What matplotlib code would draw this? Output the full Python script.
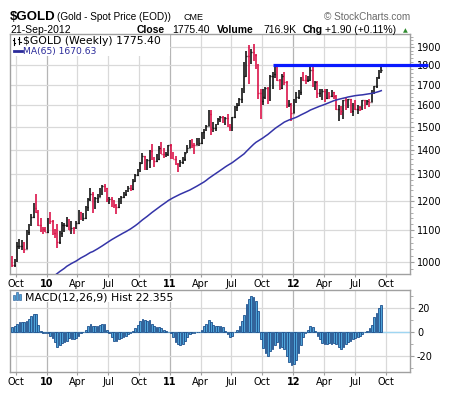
import numpy as np
import pandas as pd
import matplotlib
matplotlib.use('Agg')
import matplotlib.pyplot as plt
import matplotlib.dates as mdates
from matplotlib.ticker import FixedLocator, NullFormatter, FixedFormatter
from matplotlib.patches import Rectangle

# ---------------- data ----------------
week_end = pd.date_range('2009-09-25', periods=157, freq='W-FRI')

closes = [991, 1003, 1049, 1051, 1056, 1040, 1095, 1118, 1145, 1175,
          1162, 1118, 1110, 1105, 1096, 1138, 1130, 1091, 1081, 1064,
          1093, 1117, 1118, 1134, 1102, 1107, 1105, 1126, 1161, 1137,
          1142, 1180, 1210, 1228, 1176, 1213, 1217, 1227, 1256, 1250,
          1209, 1210, 1189, 1188, 1181, 1204, 1215, 1227, 1236, 1250,
          1246, 1275, 1297, 1317, 1345, 1372, 1325, 1358, 1394, 1366,
          1352, 1362, 1406, 1384, 1377, 1380, 1420, 1369, 1360, 1343,
          1341, 1349, 1360, 1388, 1409, 1429, 1420, 1419, 1428, 1429,
          1474, 1486, 1504, 1556, 1491, 1493, 1509, 1536, 1542, 1529,
          1538, 1500, 1483, 1542, 1592, 1601, 1628, 1663, 1743, 1852,
          1828, 1876, 1855, 1811, 1657, 1620, 1636, 1682, 1642, 1744,
          1756, 1788, 1724, 1685, 1746, 1712, 1598, 1606, 1564, 1617,
          1640, 1665, 1739, 1725, 1724, 1725, 1776, 1711, 1712, 1656,
          1662, 1668, 1632, 1659, 1642, 1663, 1644, 1580, 1592, 1572,
          1622, 1590, 1627, 1572, 1604, 1579, 1592, 1582, 1622, 1606,
          1620, 1616, 1671, 1691, 1739, 1770, 1775.4]

opens = [1003, 991, 1003, 1049, 1051, 1056, 1040, 1095, 1118, 1145,
         1175, 1162, 1118, 1110, 1105, 1096, 1138, 1130, 1091, 1081,
         1064, 1093, 1117, 1118, 1134, 1102, 1107, 1105, 1126, 1161,
         1137, 1142, 1180, 1210, 1228, 1176, 1213, 1217, 1227, 1256,
         1250, 1209, 1210, 1189, 1188, 1181, 1204, 1215, 1227, 1236,
         1250, 1246, 1275, 1297, 1317, 1345, 1372, 1325, 1358, 1394,
         1366, 1352, 1362, 1406, 1384, 1377, 1380, 1420, 1369, 1360,
         1343, 1341, 1349, 1360, 1388, 1409, 1429, 1420, 1419, 1428,
         1429, 1474, 1486, 1504, 1556, 1491, 1493, 1509, 1536, 1542,
         1529, 1538, 1500, 1483, 1542, 1592, 1601, 1628, 1663, 1743,
         1852, 1828, 1876, 1855, 1811, 1657, 1620, 1636, 1682, 1642,
         1744, 1756, 1788, 1724, 1685, 1746, 1712, 1598, 1606, 1564,
         1617, 1640, 1665, 1739, 1725, 1724, 1725, 1776, 1711, 1712,
         1656, 1662, 1668, 1632, 1659, 1642, 1663, 1644, 1580, 1592,
         1572, 1622, 1590, 1627, 1572, 1604, 1579, 1592, 1582, 1622,
         1606, 1620, 1616, 1671, 1691, 1739, 1770]

highs = [1018, 1009, 1062, 1071, 1070, 1062, 1101, 1120, 1155, 1195,
         1227, 1170, 1140, 1113, 1112, 1140, 1162, 1135, 1105, 1123,
         1098, 1127, 1126, 1146, 1139, 1130, 1112, 1130, 1168, 1162,
         1158, 1183, 1213, 1249, 1232, 1215, 1225, 1250, 1260, 1265,
         1248, 1215, 1215, 1204, 1192, 1212, 1220, 1234, 1241, 1257,
         1259, 1283, 1300, 1322, 1350, 1388, 1374, 1362, 1397, 1424,
         1371, 1381, 1415, 1432, 1406, 1392, 1421, 1424, 1391, 1375,
         1346, 1357, 1370, 1390, 1419, 1440, 1446, 1427, 1448, 1448,
         1476, 1488, 1509, 1577, 1574, 1522, 1512, 1537, 1550, 1550,
         1545, 1558, 1510, 1545, 1595, 1610, 1632, 1681, 1817, 1881,
         1912, 1890, 1921, 1862, 1810, 1680, 1680, 1690, 1690, 1748,
         1764, 1803, 1796, 1730, 1754, 1764, 1720, 1625, 1611, 1627,
         1662, 1672, 1740, 1764, 1750, 1745, 1790, 1792, 1720, 1716,
         1680, 1678, 1680, 1680, 1663, 1672, 1665, 1647, 1600, 1595,
         1625, 1640, 1628, 1630, 1607, 1625, 1598, 1595, 1625, 1625,
         1623, 1630, 1675, 1693, 1740, 1778, 1790]

lows = [987, 986, 1000, 1040, 1038, 1027, 1040, 1086, 1115, 1140,
        1160, 1115, 1094, 1090, 1095, 1092, 1122, 1086, 1075, 1045,
        1058, 1078, 1094, 1110, 1100, 1087, 1088, 1105, 1120, 1135,
        1131, 1139, 1167, 1200, 1160, 1173, 1195, 1214, 1222, 1233,
        1197, 1192, 1181, 1176, 1157, 1176, 1190, 1212, 1220, 1235,
        1239, 1240, 1270, 1293, 1310, 1340, 1316, 1318, 1325, 1358,
        1330, 1350, 1358, 1382, 1364, 1371, 1375, 1362, 1360, 1336,
        1309, 1330, 1340, 1355, 1385, 1406, 1406, 1382, 1418, 1414,
        1425, 1447, 1482, 1502, 1462, 1475, 1480, 1508, 1520, 1516,
        1508, 1496, 1478, 1480, 1539, 1571, 1596, 1610, 1660, 1740,
        1705, 1810, 1825, 1780, 1630, 1535, 1600, 1630, 1604, 1620,
        1680, 1735, 1716, 1672, 1680, 1700, 1584, 1590, 1523, 1560,
        1610, 1630, 1650, 1720, 1703, 1711, 1720, 1688, 1675, 1635,
        1640, 1625, 1612, 1628, 1628, 1640, 1630, 1575, 1527, 1551,
        1533, 1578, 1585, 1563, 1547, 1576, 1555, 1570, 1576, 1581,
        1600, 1591, 1614, 1655, 1683, 1730, 1760]

# weekly closes before the visible window (Jun 2008 - Sep 18 2009), used for MA(65)
pre_closes = [904, 929, 933, 962, 956, 926, 912, 865, 786, 830,
              832, 802, 764, 865, 884, 832, 850, 785, 736, 719,
              737, 747, 797, 815, 755, 824, 837, 872, 877, 854,
              838, 900, 927, 914, 942, 1000, 943, 938, 930, 952,
              923, 900, 880, 870, 913, 886, 915, 928, 958, 979,
              960, 937, 932, 941, 929, 912, 937, 951, 954, 957,
              946, 950, 955, 995, 1006, 1003]

macd_hist = [4, 5, 7, 8, 8, 8, 9, 11, 13, 15,
             15, 6, 1, -1, -1, -1, -3, -5, -8, -12,
             -11, -9, -8, -7, -5, -6, -6, -5, -3, -1,
             0, 2, 5, 7, 5, 5, 5, 6, 7, 7,
             2, -1, -4, -7, -7, -6, -5, -4, -3, -2,
             -1, 1, 3, 6, 9, 11, 10, 9, 10, 7,
             5, 4, 4, 3, 2, 1, 0, -1, -4, -8,
             -10, -11, -10, -7, -4, -2, -1, -1, 0, 0,
             2, 5, 7, 10, 8, 6, 5, 5, 5, 4,
             1, -2, -4, -3, 0, 2, 5, 9, 14, 23,
             27, 30, 29, 26, 17, -6, -13, -17, -20, -16,
             -14, -11, -8, -13, -12, -14, -20, -25, -27, -26,
             -23, -17, -11, -4, -1, 2, 5, 4, 1, -3,
             -6, -9, -10, -10, -9, -10, -9, -10, -12, -14,
             -12, -10, -8, -7, -6, -5, -4, -3, -2, 0,
             1, 3, 6, 12, 16, 20, 22.355]

price_ticks = [1000, 1100, 1200, 1300, 1400, 1500, 1600, 1700, 1800, 1900]
macd_ticks = [-20, 0, 20]
x_tick_dates = ['2009-10-01', '2010-01-01', '2010-04-01', '2010-07-01', '2010-10-01',
                '2011-01-01', '2011-04-01', '2011-07-01', '2011-10-01',
                '2012-01-01', '2012-04-01', '2012-07-01', '2012-10-01']
x_tick_labels = ['Oct', '10', 'Apr', 'Jul', 'Oct', '11', 'Apr', 'Jul', 'Oct',
                 '12', 'Apr', 'Jul', 'Oct']

resistance_level = 1800
resistance_start = '2011-10-31'
resistance_end = '2013-02-02'

ma_period = 65

# ---------------- figure ----------------
W, H = 449, 395
fig = plt.figure(figsize=(W / 100, H / 100), dpi=100)
fig.patch.set_facecolor('white')


def fx(x):
    return x / W


def fy(y):
    return 1 - y / H


ax1 = fig.add_axes([fx(10), fy(274), 400 / W, 240 / H])
ax2 = fig.add_axes([fx(10), fy(372), 400 / W, 82 / H])

bar_x = mdates.date2num(week_end - pd.Timedelta(days=4))
o = np.array(opens, float)
h = np.array(highs, float)
l = np.array(lows, float)
c = np.array(closes, float)
prev = np.concatenate([[pre_closes[-1]], c[:-1]])
colors = np.where(c < prev, '#d8003a', '#000000')

all_closes = pd.Series(list(pre_closes) + list(closes), dtype=float)
ma = all_closes.rolling(ma_period).mean().values[-len(closes):]

xmin = mdates.date2num(pd.Timestamp('2009-09-14'))
xmax = mdates.date2num(pd.Timestamp('2012-12-11'))
tick_nums = mdates.date2num(pd.to_datetime(x_tick_dates))

grid_c = '#d9d9d9'
year_c = '#b5b5b5'
spine_c = '#a0a0a0'

for ax in (ax1, ax2):
    ax.set_xlim(xmin, xmax)
    ax.set_facecolor('white')
    for s in ax.spines.values():
        s.set_color(spine_c)
        s.set_linewidth(1.0)
    for tn, lab in zip(tick_nums, x_tick_labels):
        ax.axvline(tn, color=year_c if lab.isdigit() else grid_c, lw=0.9, zorder=0)
    ax.xaxis.set_major_locator(FixedLocator(tick_nums))
    ax.xaxis.set_major_formatter(FixedFormatter(x_tick_labels))
    ax.tick_params(axis='x', length=2, color=spine_c, pad=1.5, labelsize=7)
    for t, lab in zip(ax.get_xticklabels(), x_tick_labels):
        t.set_fontfamily('DejaVu Sans')
        if lab.isdigit():
            t.set_fontweight('bold')
    ax.yaxis.tick_right()
    ax.tick_params(axis='y', which='major', length=3, color=spine_c, pad=2, labelsize=7)
    ax.tick_params(axis='y', which='minor', length=2, color=spine_c)

# ---- price panel ----
ax1.set_yscale('log')
ax1.set_ylim(966, 1977)
ax1.yaxis.set_major_locator(FixedLocator(price_ticks))
ax1.yaxis.set_major_formatter(FixedFormatter([str(v) for v in price_ticks]))
ax1.yaxis.set_minor_locator(FixedLocator([v for v in range(980, 1980, 20) if v % 100]))
ax1.yaxis.set_minor_formatter(NullFormatter())
for v in price_ticks:
    ax1.axhline(v, color=grid_c, lw=0.9, zorder=0)
for lab in ax1.get_yticklabels():
    lab.set_fontfamily('DejaVu Sans')

tk = 1.6
ax1.vlines(bar_x, l, h, colors=colors, lw=1.1, zorder=3)
ax1.hlines(o, bar_x - tk, bar_x, colors=colors, lw=1.0, zorder=3)
ax1.hlines(c, bar_x, bar_x + tk, colors=colors, lw=1.0, zorder=3)
ax1.plot(bar_x, ma, color='#3434a8', lw=1.1, zorder=3)

rs = mdates.date2num(pd.Timestamp(resistance_start))
re_ = mdates.date2num(pd.Timestamp(resistance_end))
ax1.plot([rs, re_], [resistance_level, resistance_level], color='#0a1aff', lw=2.3,
         solid_capstyle='butt', clip_on=False, zorder=6)

# legend box
ax1.add_patch(Rectangle((0, 1 - 22 / 240), 160 / 400, 22 / 240, transform=ax1.transAxes,
                        facecolor='white', edgecolor='none', zorder=1))
fig.text(fx(23), fy(44.5), '$GOLD (Weekly) 1775.40', fontsize=7.8,
         family='DejaVu Sans', va='baseline', ha='left', color='#000000')
fig.text(fx(23), fy(54), 'MA(65) 1670.63', fontsize=6.6, family='DejaVu Sans',
         va='baseline', ha='left', color='#2a2a9a')
fig.lines.append(plt.Line2D([fx(14), fx(22)], [fy(51), fy(51)], transform=fig.transFigure,
                            color='#2a2a9a', lw=2))
# little OHLC icon
for xx, y0, y1 in [(14, 38, 45), (19, 37, 44)]:
    fig.lines.append(plt.Line2D([fx(xx), fx(xx)], [fy(y0), fy(y1)], transform=fig.transFigure,
                                color='#000000', lw=0.8))
    fig.lines.append(plt.Line2D([fx(xx - 1.5), fx(xx)], [fy(y0 + 2), fy(y0 + 2)],
                                transform=fig.transFigure, color='#000000', lw=0.8))
    fig.lines.append(plt.Line2D([fx(xx), fx(xx + 1.5)], [fy(y1 - 2), fy(y1 - 2)],
                                transform=fig.transFigure, color='#000000', lw=0.8))

# ---- MACD panel ----
ax2.set_ylim(-33, 34.7)
ax2.yaxis.set_major_locator(FixedLocator(macd_ticks))
ax2.yaxis.set_major_formatter(FixedFormatter([str(v) for v in macd_ticks]))
ax2.yaxis.set_minor_locator(FixedLocator([-30, -10, 10, 30]))
ax2.yaxis.set_minor_formatter(NullFormatter())
for v in macd_ticks:
    ax2.axhline(v, color=grid_c, lw=0.9, zorder=0)
for lab in ax2.get_yticklabels():
    lab.set_fontfamily('DejaVu Sans')
ax2.bar(bar_x, macd_hist, width=5.2, color='#4ea3d8', edgecolor='#1d4f8c', lw=0.6, zorder=3)
ax2.axhline(0, color='#9fd6f2', lw=1.0, zorder=2)
ax2.add_patch(Rectangle((0, 1 - 12 / 82), 170 / 400, 12 / 82, transform=ax2.transAxes,
                        facecolor='white', edgecolor='none', zorder=1))
fig.text(fx(25), fy(300), 'MACD(12,26,9) Hist 22.355', fontsize=7.8,
         family='DejaVu Sans', va='baseline', ha='left', color='#000000')
for xx, hh in [(14, 5), (17, 8), (20, 6)]:
    fig.patches.append(Rectangle((fx(xx - 1), fy(300)), 2 / W, hh / H,
                                 transform=fig.transFigure, facecolor='#4ea3d8',
                                 edgecolor='#1d4f8c', lw=0.4))

# ---- header ----
fig.text(fx(10), fy(20), '$GOLD', fontsize=9.5, fontweight='bold',
         family='Liberation Sans', va='baseline')
fig.text(fx(57), fy(20), '(Gold - Spot Price (EOD))', fontsize=7.2,
         family='Liberation Sans', va='baseline')
fig.text(fx(183), fy(20), 'CME', fontsize=6.5, family='Liberation Sans', va='baseline')
fig.text(fx(410), fy(19.5), '\u00a9 StockCharts.com', fontsize=7.2, color='#6a6a6a',
         family='Liberation Sans', va='baseline', ha='right')

fig.text(fx(10), fy(33), '21-Sep-2012', fontsize=7.5, family='Liberation Sans', va='baseline')
segs = [(137, 'Close', True), (172, '1775.40', False), (217, 'Volume', True),
        (263, '716.9K', False), (303, 'Chg', True), (325, '+1.90 (+0.11%)', False)]
for xx, s, b in segs:
    fig.text(fx(xx), fy(33), s, fontsize=7.5, family='Liberation Sans',
             fontweight='bold' if b else 'normal', va='baseline')
fig.text(fx(405.5), fy(32.5), '\u25b2', fontsize=4.5, color='#2e8b2e',
         family='DejaVu Sans', va='baseline', ha='center')

fig.savefig('out.png', dpi=100, facecolor='white')
